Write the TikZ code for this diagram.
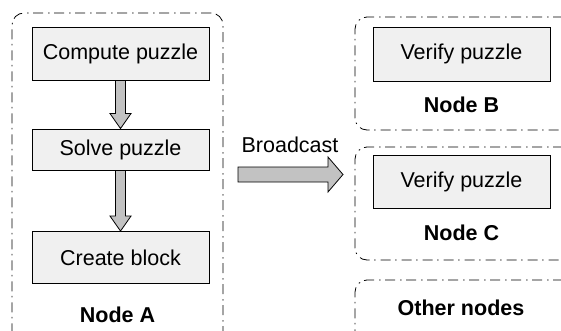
\documentclass[tikz,border=0pt]{standalone}
\usepackage{fontspec}
\setmainfont{Liberation Sans}
\usetikzlibrary{calc}
\definecolor{boxgray}{gray}{0.94}
\definecolor{arrowgray}{gray}{0.76}
\tikzstyle{task} = [rectangle, minimum width=177pt, minimum height=53pt,
    text centered, draw=black, fill=boxgray, line width=0.9pt, font=\fontsize{21.5}{26}\selectfont]
\tikzstyle{peerframe} = [rectangle, rounded corners=12pt, draw=black, line width=0.8pt,
    dash pattern=on 10pt off 4.5pt on 1.5pt off 5pt]
\tikzstyle{peername} = [font=\fontsize{21.5}{26}\selectfont\bfseries]
\tikzstyle{blockdown} = [draw=black, fill=arrowgray, line width=0.8pt, line join=miter,
    to path={let \p1=(\tikztostart), \p2=(\tikztotarget) in
      (\x1-5pt,\y1) -- (\x1+5pt,\y1) -- (\x1+5pt,\y2+15pt) -- (\x1+10.5pt,\y2+15pt)
      -- (\x1,\y2) -- (\x1-10.5pt,\y2+15pt) -- (\x1-5pt,\y2+15pt) -- cycle}]
\tikzstyle{blockright} = [draw=black, fill=arrowgray, line width=0.8pt, line join=miter,
    to path={let \p1=(\tikztostart), \p2=(\tikztotarget) in
      (\x1,\y1-7.5pt) -- (\x2-15pt,\y1-7.5pt) -- (\x2-15pt,\y1-17.5pt) -- (\x2,\y1)
      -- (\x2-15pt,\y1+17.5pt) -- (\x2-15pt,\y1+7.5pt) -- (\x1,\y1+7.5pt) -- cycle}]

\begin{document}
\begin{tikzpicture}[x=1pt, y=-1pt, node distance=96pt]
            \clip (0,0) rectangle (561,331);
            % miner
            \node (frameA) [peerframe, minimum width=211pt, minimum height=332pt] at (117.5,179) {};
            \node (compute) [task] at (120.5,53.5) {Compute puzzle};
            \node (solve) [task, below of=compute, minimum height=41pt] {Solve puzzle};
            \node (create) [task, below of=solve, yshift=-12pt, minimum height=52pt] {Create block};
            \node (nameA) [peername, below of=create, node distance=57.5pt, xshift=-3pt] {Node A};

            % other peers
            \node (frameB) [peerframe, minimum width=220pt, minimum height=113pt] at (465,73.5) {};
            \node (verifyB) [task, minimum height=54pt] at (461.5,54) {Verify puzzle};
            \node (nameB) [peername, below of=verifyB, node distance=51pt] {Node B};
            \node (frameC) [peerframe, below of=frameB, node distance=130pt,
                minimum width=220pt, minimum height=113pt] {};
            \node (verifyC) [task, below of=verifyB, node distance=127.5pt] {Verify puzzle};
            \node (nameC) [peername, below of=verifyC, node distance=51.5pt] {Node C};
            \node (frameO) [peerframe, minimum width=220pt, minimum height=120pt] at (465,340) {};
            \node (nameO) [peername] at (461,308) {Other nodes};

            \draw [blockdown] (compute.south) to (solve.north);
            \draw [blockdown] (solve.south) to (create.north);

            \coordinate (bcfrom) at (238,174.5);
            \coordinate (bcto) at (343,174.5);
            \draw [blockright] (bcfrom) to (bcto);
            \node (bclabel) [font=\fontsize{21.5}{26}\selectfont] at (290,145) {Broadcast};
        \end{tikzpicture}
\end{document}
